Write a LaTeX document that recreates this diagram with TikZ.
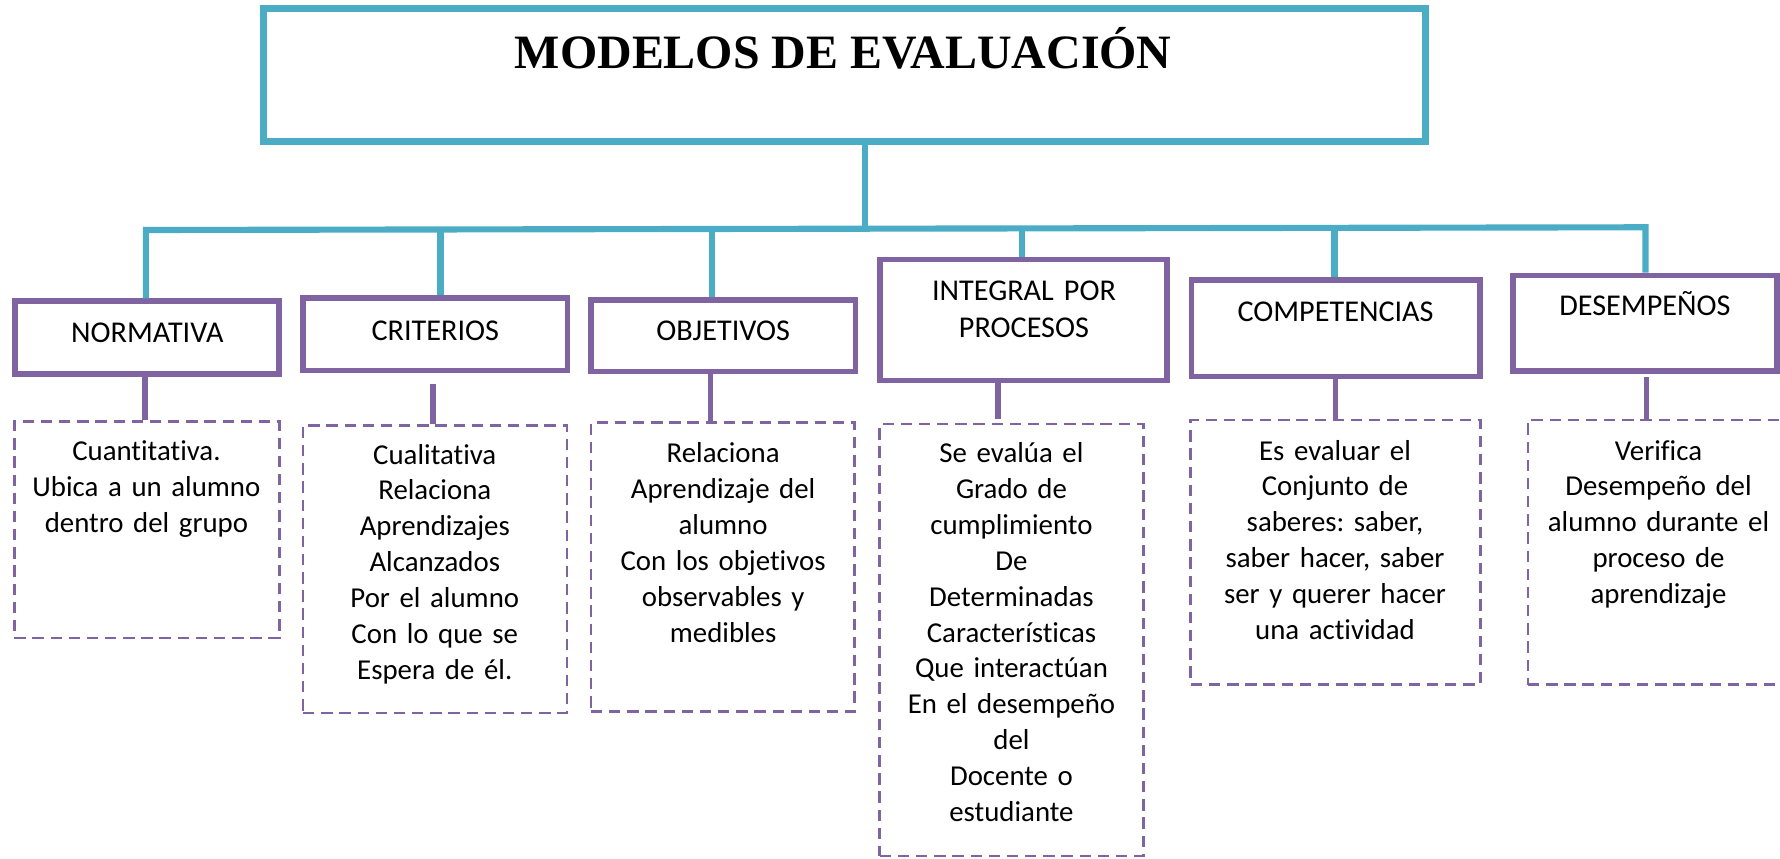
\documentclass[tikz,border=0pt]{standalone}
\usepackage{fontspec}
\setmainfont{Carlito}[Ligatures=NoCommon,WordSpace=0.8]
\newfontfamily\titlefont{Liberation Serif}
\usetikzlibrary{fit}
\definecolor{tealc}{HTML}{4BACC6}
\definecolor{purp}{HTML}{8064A2}
\frenchspacing
\begin{document}
\begin{tikzpicture}[x=0.5pt,y=-0.5pt,
  tbox/.style={draw=tealc,line width=3pt,inner sep=0pt},
  pbox/.style={draw=purp,line width=2.5pt,inner sep=0pt},
  dbox/.style={draw=purp,line width=1.2pt,dash pattern=on 5pt off 3pt,inner sep=0pt},
  tline/.style={draw=tealc,line width=2.7pt},
  pline/.style={draw=purp,line width=2.5pt},
  head/.style={font=\frenchspacing\fontsize{13.3}{16}\selectfont,anchor=base,align=center,text width=125pt,inner sep=0pt},
  body/.style={font=\frenchspacing\fontsize{12.7}{15.8}\selectfont,anchor=base,align=center,text width=115pt,inner sep=0pt},
]
\useasboundingbox (0,0) rectangle (1568,756);
% title
\node[tbox, fit={(232,7.4) (1256,124.7)}] (title) {};
\node[anchor=base, inner sep=0pt, font=\titlefont\bfseries\fontsize{21.1}{24}\selectfont] (ttext) at (742.8,60) {MODELOS DE EVALUACIÓN};
% category boxes
\node[pbox, fit={(13.5,265.3) (246,329.3)}] (n1) {};
\node[pbox, fit={(267,262.4) (500,326.4)}] (n2) {};
\node[pbox, fit={(520.5,264.4) (753.5,327.3)}] (n3) {};
\node[pbox, fit={(775,228.5) (1028,335.2)}] (n4) {};
\node[pbox, fit={(1049.5,246.8) (1304,331.7)}] (n5) {};
\node[pbox, fit={(1333,242.7) (1565.5,327)}] (n6) {};
\node[head] (h1) at (129.8,301.6) {NORMATIVA};
\node[head] (h2) at (383.5,299.5) {CRITERIOS};
\node[head] (h3) at (637,300.1) {OBJETIVOS};
\node[head] (h4) at (902,265) {INTEGRAL POR\\PROCESOS};
\node[head] (h5) at (1176.5,283) {COMPETENCIAS};
\node[head] (h6) at (1449,277.5) {DESEMPEÑOS};
% dashed boxes
\node[dbox, fit={(12.5,371.5) (246,562)}] (b1) {};
\node[dbox, fit={(267,374.5) (499.5,628)}] (b2) {};
\node[dbox, fit={(520.5,372.4) (753,626.5)}] (b3) {};
\node[dbox, fit={(775,373.6) (1007,754)}] (b4) {};
\node[dbox, fit={(1049,370) (1304,603)}] (b5) {};
\node[dbox, fit={(1346,370) (1580,603)}] (b6) {};
\node[body] (x1) at (129,406) {Cuantitativa.\\Ubica a un alumno\\dentro del grupo};
\node[body] (x2) at (383,408.8) {Cualitativa\\Relaciona\\Aprendizajes\\Alcanzados\\Por el alumno\\Con lo que se\\Espera de él.};
\node[body] (x3) at (637,407.6) {Relaciona\\Aprendizaje del\\alumno\\Con los objetivos\\observables y\\medibles};
\node[body] (x4) at (891,407.6) {Se evalúa el\\Grado de\\cumplimiento\\De\\Determinadas\\Características\\Que interactúan\\En el desempeño\\del\\Docente o\\estudiante};
\node[body] (x5) at (1176,405.3) {Es evaluar el\\Conjunto de\\saberes: saber,\\saber hacer, saber\\ser y querer hacer\\una actividad};
\node[body] (x6) at (1461,405.3) {Verifica\\Desempeño del\\alumno durante el\\proceso de\\aprendizaje};
% teal connectors
\coordinate (hv) at (762,201.8);
\coordinate (hl) at (128.5,202.6);
\coordinate (hr) at (1449.5,200.2);
\coordinate (t2) at (388,202.1);
\coordinate (t3) at (627.5,201.7);
\coordinate (t4) at (900,201.3);
\coordinate (t5) at (1175.5,200.8);
\draw[tline] (hv |- title.south) -- (hv);
\draw[tline] (hl |- n1.north) -- (hl) -- (hr) -- (hr |- n6.north);
\draw[tline] (t2) -- (t2 |- n2.north);
\draw[tline] (t3) -- (t3 |- n3.north);
\draw[tline] (t4) -- (t4 |- n4.north);
\draw[tline] (t5) -- (t5 |- n5.north);
% purple connectors
\coordinate (p1) at (128,0);
\coordinate (p2) at (381.5,338.3);
\coordinate (p3) at (626,0);
\coordinate (p4) at (879,0);
\coordinate (p4e) at (879,369);
\coordinate (p5) at (1176.5,0);
\coordinate (p6) at (1450.5,331.8);
\draw[pline] (p1 |- n1.south) -- (p1 |- b1.north);
\draw[pline] (p2) -- (p2 |- b2.north);
\draw[pline] (p3 |- n3.south) -- (p3 |- b3.north);
\draw[pline] (p4 |- n4.south) -- (p4e);
\draw[pline] (p5 |- n5.south) -- (p5 |- b5.north);
\draw[pline] (p6) -- (p6 |- b6.north);
\end{tikzpicture}
\end{document}
